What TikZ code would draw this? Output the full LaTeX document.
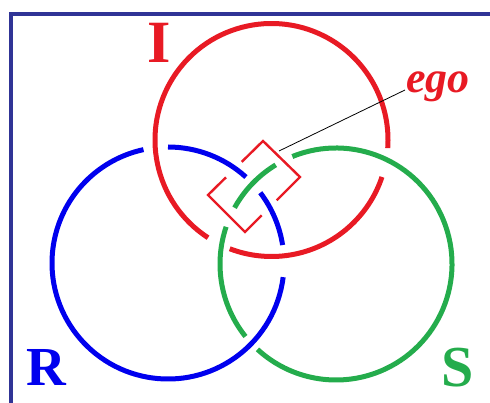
\documentclass[tikz,border=0pt]{standalone}
\usepackage{fontspec}
\setmainfont{Liberation Serif}
\usepackage{tikz}
\usetikzlibrary{calc}

\definecolor{ringred}{RGB}{232,26,36}
\definecolor{ringblue}{RGB}{0,0,238}
\definecolor{ringgreen}{RGB}{36,172,76}
\definecolor{framblue}{RGB}{48,52,150}

\begin{document}
\begin{tikzpicture}[x=1pt, y=-1pt,
    ring/.style={line width=5pt},
    egobox/.style={line width=2.4pt, ringred, line join=miter},
    letter/.style={inner sep=0pt, anchor=base, font=\bfseries},
    ]
    \useasboundingbox (0,0) rectangle (490,403);
    \clip (0,0) rectangle (490,403);
    \draw[framblue, line width=4pt] (10.5,14.5) rectangle (520,430);

    % centres of the three rings
    \coordinate (I) at (271.5,140);
    \coordinate (R) at (168,263);
    \coordinate (S) at (336,264);

    % rings, broken where they pass under
    \foreach \a/\b in {18.5/111, 123/364}
        \draw[ring, ringred] (I) ++(\a:116.5) arc[start angle=\a, end angle=\b, radius=116.5];
    \foreach \a/\b in {270/312.2, 322.7/351.1, 367/617.8}
        \draw[ring, ringblue] (R) ++(\a:116) arc[start angle=\a, end angle=\b, radius=116];
    \foreach \a/\b in {141.3/198.7, 209/238.7, 247.9/492.6}
        \draw[ring, ringgreen] (S) ++(\a:116) arc[start angle=\a, end angle=\b, radius=116];

    % the ego square
    \coordinate (egoT) at (263,141);
    \coordinate (egoR) at (300,177);
    \coordinate (egoB) at (245,232);
    \coordinate (egoL) at (208,195);
    \draw[egobox] ($(egoT)!0.673!(egoL)$) -- (egoL) -- (egoB) -- ($(egoR)!0.696!(egoB)$);
    \draw[egobox] ($(egoR)!0.424!(egoB)$) -- (egoR) -- (egoT) -- ($(egoT)!0.387!(egoL)$);

    % labels
    \node[letter, ringred, font=\bfseries\fontsize{60}{60}\selectfont] (labI) at (159,63) {I};
    \node[letter, ringblue, font=\bfseries\fontsize{55}{55}\selectfont] (labR) at (46,385) {R};
    \node[letter, ringgreen, font=\bfseries\fontsize{58}{58}\selectfont] (labS) at (458,386) {S};
    \node[inner sep=0pt, anchor=base west, ringred, font=\bfseries\itshape\fontsize{44}{44}\selectfont] (ego) at (406,93) {ego};

    \coordinate (egotip) at (279,151);
    \draw[black, line width=0.8pt] (egotip) -- ($(ego.base west)+(-1,-3)$);
\end{tikzpicture}
\end{document}
